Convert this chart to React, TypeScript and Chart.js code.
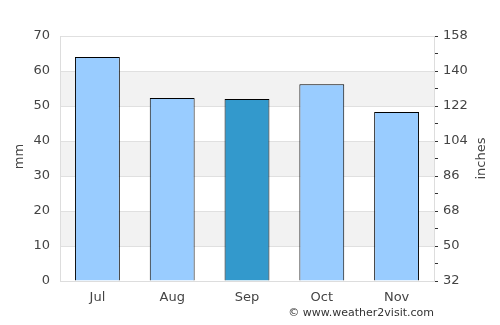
import React, { useEffect, useRef } from "react";
import { Chart, registerables } from "chart.js";
Chart.register(...registerables);

const months = ["Jul", "Aug", "Sep", "Oct", "Nov"];
const rainfallMm = [64, 52.3, 52, 56.2, 48.3];
const barColors = ["#99ccff", "#99ccff", "#3399cc", "#99ccff", "#99ccff"];
const leftMin = 0;
const leftMax = 70;
const leftStep = 10;
const rightMin = 32;
const rightMax = 158;
const rightMinorStep = 9;
const rightLabelStep = 18;
const leftTitle = "mm";
const rightTitle = "inches";
const footerText = "© www.weather2visit.com";

const FONT = "'DejaVu Sans', sans-serif";

const decorPlugin = {
  id: "decor",
  beforeDraw(chart: any) {
    const { ctx, chartArea, scales } = chart;
    const y = scales.y;
    ctx.save();
    ctx.fillStyle = "#f2f2f2";
    for (let v = leftMin + leftStep; v < leftMax; v += 2 * leftStep) {
      const top = y.getPixelForValue(v + leftStep);
      const bot = y.getPixelForValue(v);
      ctx.fillRect(chartArea.left, top, chartArea.right - chartArea.left, bot - top);
    }
    ctx.restore();
  },
  afterDraw(chart: any) {
    const { ctx, chartArea } = chart;
    const midY = (chartArea.top + chartArea.bottom) / 2;
    ctx.save();
    ctx.fillStyle = "#444";
    ctx.font = `13px ${FONT}`;
    ctx.textAlign = "center";
    ctx.textBaseline = "middle";
    ctx.translate(20, midY - 2);
    ctx.rotate(-Math.PI / 2);
    ctx.fillText(leftTitle, 0, 0);
    ctx.restore();

    ctx.save();
    ctx.fillStyle = "#444";
    ctx.font = `13px ${FONT}`;
    ctx.textAlign = "center";
    ctx.textBaseline = "middle";
    ctx.translate(482, midY);
    ctx.rotate(-Math.PI / 2);
    ctx.fillText(rightTitle, 0, 0);
    ctx.restore();

    ctx.save();
    ctx.fillStyle = "#333";
    ctx.font = `11px ${FONT}`;
    ctx.textAlign = "right";
    ctx.textBaseline = "middle";
    ctx.fillText(footerText, chartArea.right, 313);
    ctx.restore();
  },
};

export default function App() {
  const ref = useRef<HTMLCanvasElement | null>(null);
  useEffect(() => {
    if (!ref.current) return;
    const chart = new Chart(ref.current, {
      type: "bar",
      data: {
        labels: months,
        datasets: [
          {
            data: rainfallMm,
            backgroundColor: barColors,
            borderColor: "#000",
            borderWidth: 1,
            barPercentage: 0.6,
            categoryPercentage: 1,
            yAxisID: "y",
          },
        ],
      },
      options: {
        animation: false,
        responsive: false,
        maintainAspectRatio: false,
        layout: { padding: { top: 36, left: 0, right: 0, bottom: 0 } },
        plugins: { legend: { display: false }, tooltip: { enabled: false } },
        scales: {
          x: {
            grid: { display: false, drawTicks: false },
            border: { display: true, color: "#dddddd" },
            ticks: { color: "#444", font: { family: FONT, size: 13 }, padding: 9 },
            afterFit: (s: any) => {
              s.height = 44;
            },
          },
          y: {
            position: "left",
            min: leftMin,
            max: leftMax,
            ticks: { stepSize: leftStep, color: "#444", font: { family: FONT, size: 13 }, padding: 10 },
            grid: { color: "#e0e0e0", drawTicks: false },
            border: { display: true, color: "#dddddd" },
            afterFit: (s: any) => {
              s.width = 60;
            },
          },
          y2: {
            position: "right",
            min: rightMin,
            max: rightMax,
            ticks: {
              stepSize: rightMinorStep,
              color: "#444",
              font: { family: FONT, size: 13 },
              padding: 5,
              autoSkip: false,
              callback: (v: any) => ((Number(v) - rightMin) % rightLabelStep === 0 ? String(v) : ""),
            },
            grid: { drawOnChartArea: false, drawTicks: true, tickLength: 4, color: "#333" },
            border: { display: true, color: "#dddddd" },
            afterFit: (s: any) => {
              s.width = 66;
            },
          },
        },
      },
      plugins: [decorPlugin],
    });
    return () => chart.destroy();
  }, []);
  return (
    <div style={{ position: "fixed", left: 0, top: 0, width: 500, height: 325, background: "#fff" }}>
      <canvas ref={ref} width={500} height={325} style={{ width: 500, height: 325 }} />
    </div>
  );
}
